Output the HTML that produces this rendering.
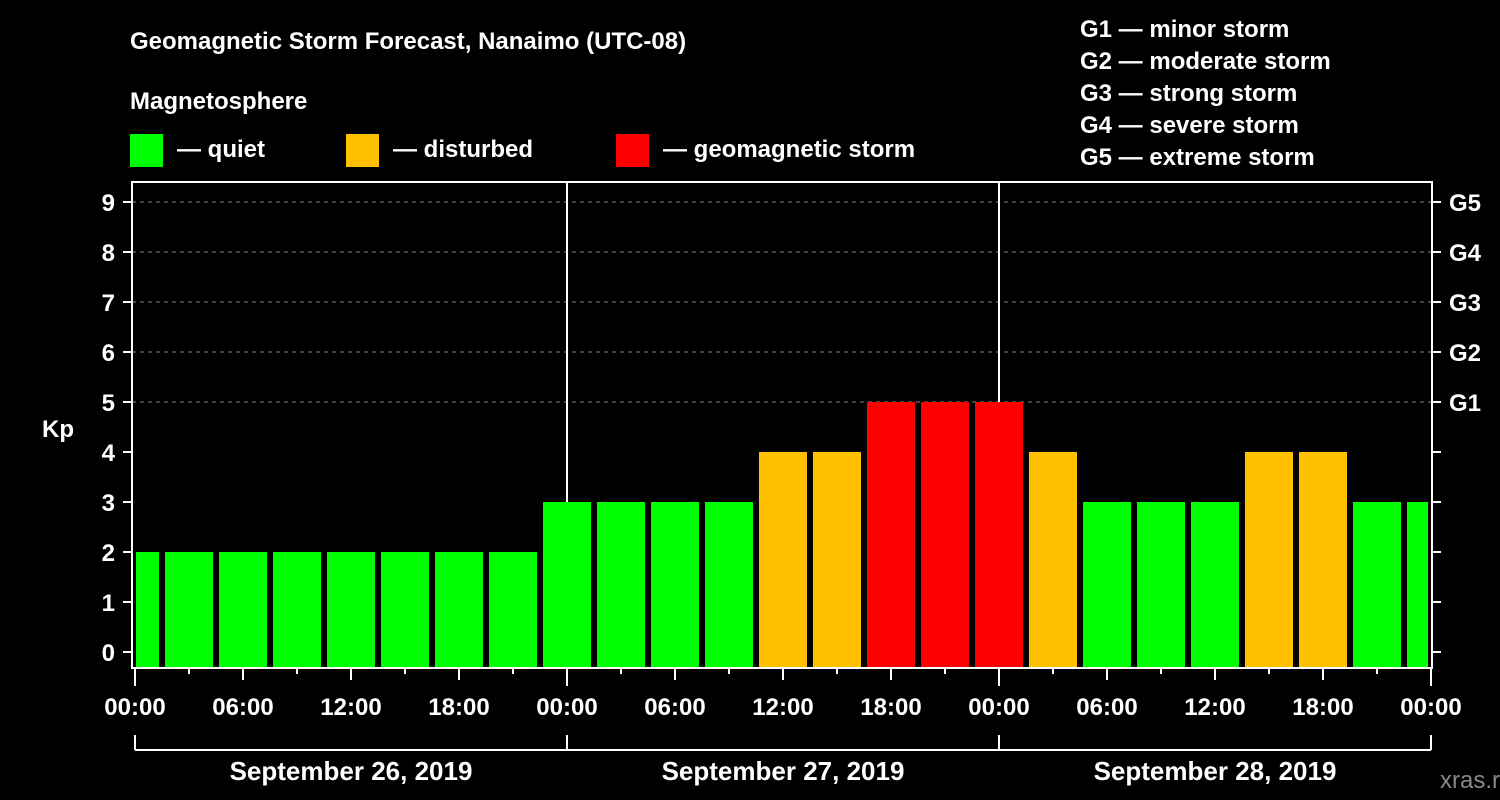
<!DOCTYPE html>
<html><head><meta charset="utf-8"><style>
html,body{margin:0;padding:0;background:#000;}
svg{display:block;font-family:"Liberation Sans",Arial,sans-serif;font-weight:bold;}
</style></head><body>
<svg id="chart" width="1500" height="800" viewBox="0 0 1500 800">
<rect x="0" y="0" width="1500" height="800" fill="#000"/>
<text x="130" y="49" font-size="24" fill="#fff">Geomagnetic Storm Forecast, Nanaimo (UTC-08)</text>
<text x="130" y="109" font-size="24" fill="#fff">Magnetosphere</text>
<g><rect x="130" y="134" width="33" height="33" fill="#00ff00"/><text x="177" y="157" font-size="24" fill="#fff">— quiet</text></g>
<g><rect x="346" y="134" width="33" height="33" fill="#ffc000"/><text x="393" y="157" font-size="24" fill="#fff">— disturbed</text></g>
<g><rect x="616" y="134" width="33" height="33" fill="#ff0000"/><text x="663" y="157" font-size="24" fill="#fff">— geomagnetic storm</text></g>
<g font-size="24" fill="#fff">
<text x="1080" y="37">G1 — minor storm</text>
<text x="1080" y="69">G2 — moderate storm</text>
<text x="1080" y="101">G3 — strong storm</text>
<text x="1080" y="133">G4 — severe storm</text>
<text x="1080" y="165">G5 — extreme storm</text>
</g>
<text x="42" y="437" font-size="24" fill="#fff">Kp</text>
<text x="1440" y="788" font-size="24" fill="#888" font-weight="normal">xras.ru</text>
<g id="grid"></g>
<g id="bars"></g>
<g id="axes"></g>
</svg>
<script>
const kpValues = [2,2,2,2,2,2,2,2,3,3,3,3,4,4,5,5,5,4,3,3,3,4,4,3,3];
const yTickLabels = ['0','1','2','3','4','5','6','7','8','9'];
const gLabels = ['G1','G2','G3','G4','G5'];
const xTickLabels = ['00:00','06:00','12:00','18:00','00:00','06:00','12:00','18:00','00:00','06:00','12:00','18:00','00:00'];
const dayLabels = ['September 26, 2019','September 27, 2019','September 28, 2019'];
const firstBarHour = -1.5;

const NS='http://www.w3.org/2000/svg';
const PL=132, PR=1432, PT=182, PB=668, X0=135, PXH=18;
const xs=h=>X0+h*PXH;
const ys=v=>652-v*50;
function mk(tag,attrs,parent){const e=document.createElementNS(NS,tag);for(const k in attrs)e.setAttribute(k,attrs[k]);parent.appendChild(e);return e;}
const grid=document.getElementById('grid'),bars=document.getElementById('bars'),axes=document.getElementById('axes');

for(let v=5;v<=9;v++){
  const l=mk('line',{x1:PL,x2:PR,y1:ys(v),y2:ys(v),stroke:'#888','stroke-width':1,'stroke-dasharray':'4,4'},grid);
  
  
}
for(let d=1;d<dayLabels.length;d++){
  const l=mk('line',{x1:xs(d*24),x2:xs(d*24),y1:PT,y2:PB,stroke:'#fff','stroke-width':2},grid);
  
  
}
kpValues.forEach((v,i)=>{
  const c=xs(firstBarHour+3*i+1.5);
  let x1=Math.max(c-24,136), x2=Math.min(c+24,1428);
  const col=v>=5?'#ff0000':(v>=4?'#ffc000':'#00ff00');
  const r=mk('rect',{x:x1,y:ys(v),width:x2-x1,height:PB-ys(v),fill:col},bars);
  
  
});
const frame=mk('rect',{x:PL,y:PT,width:PR-PL,height:PB-PT,fill:'none',stroke:'#fff','stroke-width':2},axes);


yTickLabels.forEach((t,v)=>{
  mk('line',{x1:PL-9,x2:PL,y1:ys(v),y2:ys(v),stroke:'#fff','stroke-width':2},axes);
  mk('line',{x1:PR,x2:PR+9,y1:ys(v),y2:ys(v),stroke:'#fff','stroke-width':2},axes);
  const tx=mk('text',{x:115,y:ys(v)+9,'font-size':24,fill:'#fff','text-anchor':'end'},axes);
  tx.textContent=t;
  
  
});
gLabels.forEach((g,i)=>{
  const tx=mk('text',{x:1449,y:ys(5+i)+9,'font-size':24,fill:'#fff'},axes);
  tx.textContent=g;
  
  
});
const totalH=dayLabels.length*24;
for(let h=0;h<=totalH;h+=3){
  const len=h%24===0?18:(h%6===0?12:6);
  mk('line',{x1:xs(h),x2:xs(h),y1:PB,y2:PB+len,stroke:'#fff','stroke-width':2},axes);
}
xTickLabels.forEach((t,i)=>{
  const tx=mk('text',{x:xs(i*6),y:715,'font-size':24,fill:'#fff','text-anchor':'middle'},axes);
  tx.textContent=t;
  
  
});
mk('line',{x1:xs(0),x2:xs(totalH),y1:750,y2:750,stroke:'#fff','stroke-width':2},axes);
for(let d=0;d<=dayLabels.length;d++) mk('line',{x1:xs(d*24),x2:xs(d*24),y1:735,y2:750,stroke:'#fff','stroke-width':2},axes);
dayLabels.forEach((t,d)=>{
  const tx=mk('text',{x:xs(d*24+12),y:780,'font-size':26,fill:'#fff','text-anchor':'middle'},axes);
  tx.textContent=t;
  
  
});
</script>
</body></html>
